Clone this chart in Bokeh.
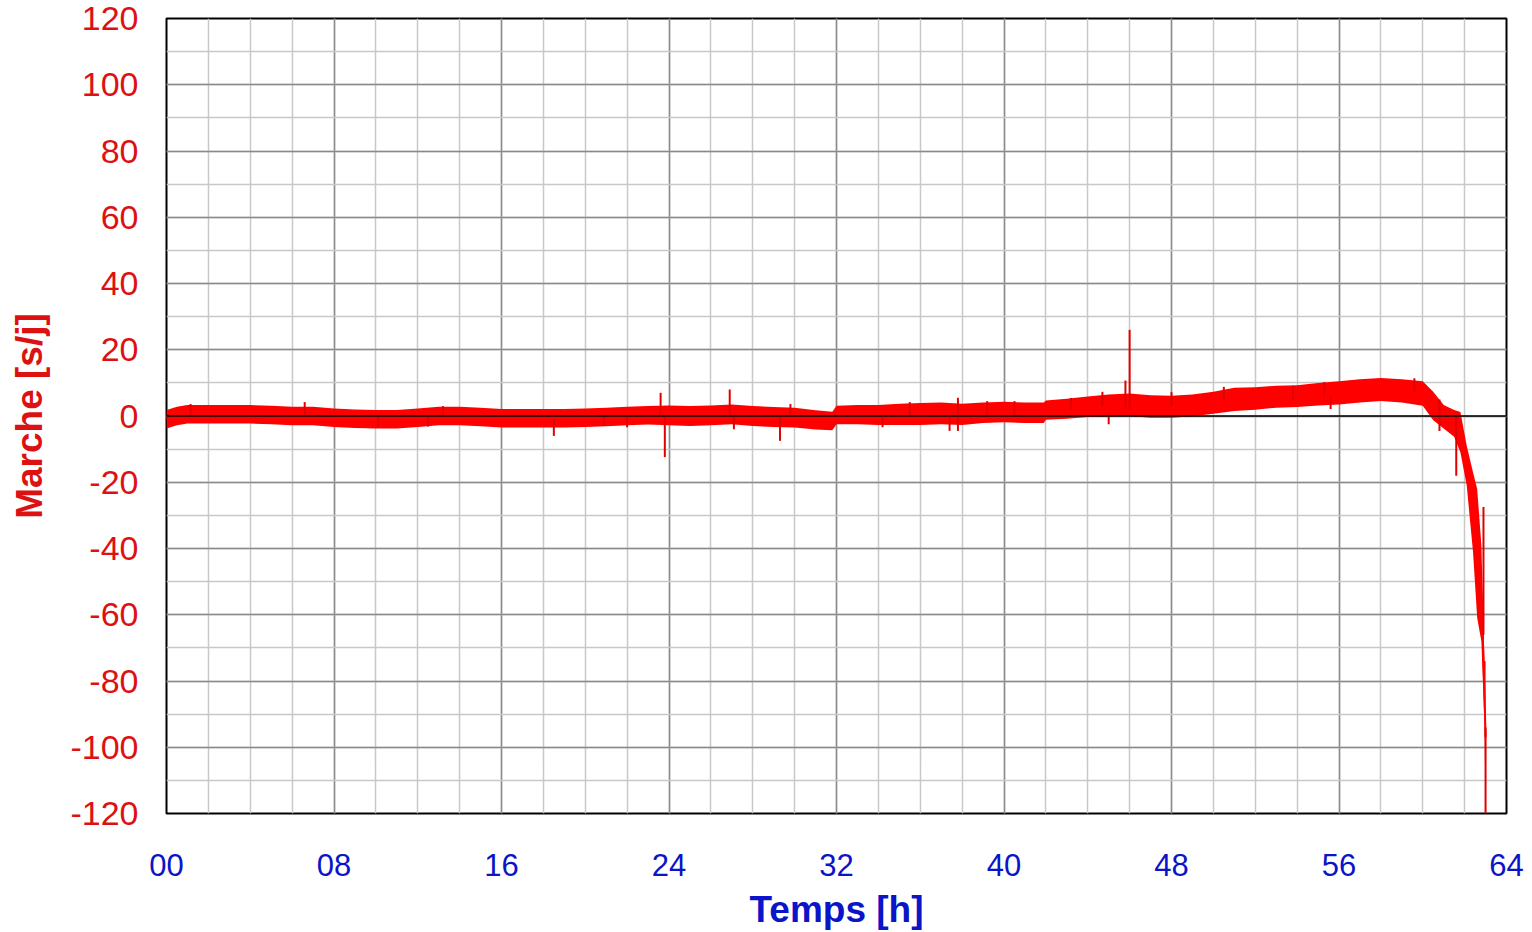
from bokeh.plotting import figure
from bokeh.models import FixedTicker, Span, ColumnDataSource
from bokeh.embed import file_html
from bokeh.resources import INLINE

# --- data ---
hours = [0, 0.5, 1, 2, 3, 4, 5, 6, 7, 8, 9, 10, 11, 12, 13, 14, 15, 16, 17, 18, 19,
         20, 21, 22, 23, 24, 25, 26, 27, 28, 29, 30, 31, 31.8, 32, 33, 34, 35, 36, 37,
         38, 39, 40, 41, 41.9, 42, 43, 44, 45, 46, 47, 48, 49, 50, 51, 52, 53, 54, 55,
         56, 57, 58, 59, 60, 60.5, 61, 61.5, 61.8, 62.1, 62.4, 62.6, 62.8, 62.95, 63.0]
low = [-3.8, -2.8, -2.3, -2.3, -2.3, -2.3, -2.5, -2.8, -2.8, -3.3, -3.6, -3.8, -3.8,
       -3.3, -2.8, -2.8, -3.1, -3.5, -3.5, -3.5, -3.5, -3.3, -3.1, -2.8, -2.6, -2.8,
       -3, -2.8, -2.5, -3, -3.3, -3.5, -4.1, -4.3, -2.5, -2.5, -2.7, -2.7, -2.7, -2.5,
       -2.7, -2.1, -1.9, -2.1, -2.1, -1.1, -0.8, -0.3, -0.1, 0, -0.5, -0.5, -0.1, 0.7,
       1.5, 1.9, 2.5, 2.7, 3.2, 3.5, 4.1, 4.5, 4.1, 3.1, -1.3, -3.8, -6.3, -11, -21,
       -41, -61, -68, -94, -120]
high = [1.8, 2.8, 3.3, 3.3, 3.3, 3.3, 3.1, 2.8, 2.8, 2.3, 2, 1.8, 1.8, 2.3, 2.8, 2.8,
        2.5, 2.1, 2.1, 2.1, 2.1, 2.3, 2.5, 2.8, 3, 3.2, 3, 3.2, 3.5, 3, 2.7, 2.5, 1.7,
        1.3, 3.1, 3.3, 3.3, 3.7, 3.9, 4.1, 3.7, 4.1, 4.3, 4.1, 4.1, 4.7, 5.2, 5.9, 6.5,
        6.8, 6.3, 6.1, 6.5, 7.3, 8.5, 8.7, 9.1, 9.3, 10, 10.5, 11.1, 11.5, 11.1, 10.5,
        7.3, 3.3, 1.8, 1.2, -9, -17, -22, -39, -74, -74]
spike_h = [1.15, 6.6, 10.1, 12.5, 13.2, 18.5, 20.9, 22.0, 23.6, 23.8, 26.9, 27.1,
           29.3, 29.8, 34.2, 35.5, 37.4, 37.8, 39.2, 40.5, 43.2, 44.7, 45.0, 45.8,
           46.0, 48.0, 50.5, 53.8, 55.3, 55.6, 59.6, 60.8, 61.6, 62.9, 63.0]
spike_lo = [0, 0, -3.4, -3.2, 0, -6, -3, -3.4, 0, -12.4, 0, -4, -7.5, 0, -3.4, 0,
            -4.5, -4.5, 0, 0, 2, 3, -2.5, 2, 2, 3, 5, 5, 6, 2.1, 7, -4.5, -18, -66, -120]
spike_hi = [3.6, 4.2, 0, 0, 3, -1, 0, 0, 7, 0, 8, 0, 0, 3.6, 0, 4.2, 0, 5.5, 4.5,
            4.5, 5.4, 7.3, 1, 10.7, 26, 7.2, 8.8, 9.1, 10.3, 6, 11.4, 5, 0, -27.5, -94]

x_major = [0, 8, 16, 24, 32, 40, 48, 56, 64]
x_minor = list(range(0, 65, 2))
x_labels = ["00", "08", "16", "24", "32", "40", "48", "56", "64"]
y_major = [-120, -100, -80, -60, -40, -20, 0, 20, 40, 60, 80, 100, 120]

RED = "#ff0000"
LABEL_RED = "#dd1111"
BLUE = "#0a14c8"
FONT = "Liberation Sans"

p = figure(width=1532, height=932, x_range=(0, 64), y_range=(-120, 120),
           output_backend="svg", toolbar_location=None,
           min_border_left=166, min_border_right=26, min_border_top=18,
           min_border_bottom=119)
p.background_fill_color = "white"
p.border_fill_color = "white"
p.outline_line_color = "black"
p.outline_line_width = 2

# x axis
p.xaxis.ticker = FixedTicker(ticks=x_major, minor_ticks=x_minor)
p.xaxis.major_label_overrides = {v: s for v, s in zip(x_major, x_labels)}
p.xaxis.axis_label = "Temps [h]"
p.xaxis.axis_label_text_font = FONT
p.xaxis.axis_label_text_font_style = "bold"
p.xaxis.axis_label_text_font_size = "37px"
p.xaxis.axis_label_text_color = BLUE
p.xaxis.axis_label_standoff = 10
p.xaxis.major_label_text_font = FONT
p.xaxis.major_label_text_font_size = "31px"
p.xaxis.major_label_text_color = BLUE
p.xaxis.major_label_standoff = 34

# y axis
p.yaxis.ticker = FixedTicker(ticks=y_major, minor_ticks=list(range(-120, 121, 10)))
p.yaxis.major_label_overrides = {v: str(v) for v in y_major}
p.yaxis.axis_label = "Marche [s/j]"
p.yaxis.axis_label_text_font = FONT
p.yaxis.axis_label_text_font_style = "bold"
p.yaxis.axis_label_text_font_size = "37px"
p.yaxis.axis_label_text_color = LABEL_RED
p.yaxis.axis_label_standoff = 17
p.yaxis.major_label_text_font = FONT
p.yaxis.major_label_text_font_size = "34px"
p.yaxis.major_label_text_color = LABEL_RED
p.yaxis.major_label_standoff = 22

for ax in (p.xaxis, p.yaxis):
    ax.axis_line_color = None
    ax.major_tick_line_color = None
    ax.minor_tick_line_color = None

# grids
for g in (p.xgrid, p.ygrid):
    g.grid_line_color = "#8a8a8a"
    g.grid_line_width = 1.5
    g.minor_grid_line_color = "#c8c8c8"
    g.minor_grid_line_width = 1.5

p.add_layout(Span(location=0, dimension="width", line_color="black", line_width=1.5))

band = ColumnDataSource(dict(x=hours, lo=low, hi=high))
p.varea(x="x", y1="lo", y2="hi", source=band, fill_color=RED)
p.line(x=hours, y=[(a + b) / 2 for a, b in zip(low, high)], line_color=RED, line_width=2)
p.segment(x0=spike_h, y0=spike_lo, x1=spike_h, y1=spike_hi, line_color="#e00000", line_width=2)

open("out.html", "w").write(file_html(p, INLINE))
